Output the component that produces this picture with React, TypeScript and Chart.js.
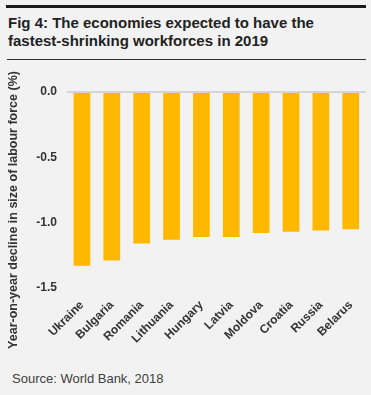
import React, { useEffect, useRef } from "react";
import { Chart, registerables } from "chart.js";

Chart.register(...registerables);

const categories = ["Ukraine", "Bulgaria", "Romania", "Lithuania", "Hungary", "Latvia", "Moldova", "Croatia", "Russia", "Belarus"];
const values = [-1.33, -1.29, -1.16, -1.13, -1.11, -1.11, -1.08, -1.07, -1.06, -1.05];
const yTicks = [0, -0.5, -1.0, -1.5];
const titleLines = ["Fig 4: The economies expected to have the", "fastest-shrinking workforces in 2019"];
const yTitle = "Year-on-year decline in size of labour force (%)";
const source = "Source: World Bank, 2018";

const FONT = "'Liberation Sans', Arial, Helvetica, sans-serif";
const CANVAS_TOP = 62;

const yTitlePlugin = {
  id: "yTitlePlugin",
  afterDraw(chart: any) {
    const ctx = chart.ctx;
    ctx.save();
    ctx.translate(14, 210 - CANVAS_TOP);
    ctx.rotate(-Math.PI / 2);
    ctx.font = `bold 12.5px ${FONT}`;
    ctx.fillStyle = "#333333";
    ctx.textAlign = "center";
    ctx.textBaseline = "middle";
    ctx.fillText(yTitle, 0, 0);
    ctx.restore();
  },
};

export default function App() {
  const ref = useRef<HTMLCanvasElement>(null);

  useEffect(() => {
    if (!ref.current) return;
    const chart = new Chart(ref.current, {
      type: "bar",
      data: {
        labels: categories,
        datasets: [
          {
            data: values,
            backgroundColor: "#ffb800",
            borderWidth: 0,
            barPercentage: 0.56,
            categoryPercentage: 1,
          },
        ],
      },
      options: {
        animation: false,
        responsive: false,
        maintainAspectRatio: false,
        layout: { padding: { left: 0, right: 1, top: 30, bottom: 0 } },
        plugins: { legend: { display: false }, tooltip: { enabled: false } },
        scales: {
          x: {
            grid: { display: false, drawTicks: false },
            border: { display: false },
            afterFit(scale: any) {
              scale.height = 74;
            },
            ticks: {
              autoSkip: false,
              minRotation: 45,
              maxRotation: 45,
              padding: 10,
              color: "#333333",
              font: { family: FONT, size: 12, weight: "bold" },
            },
          },
          y: {
            min: -1.5,
            max: 0,
            afterFit(scale: any) {
              scale.width = 67;
            },
            afterBuildTicks(scale: any) {
              scale.ticks = yTicks.map((v) => ({ value: v }));
            },
            border: { display: false },
            grid: {
              drawTicks: false,
              color: (c: any) => (c.tick && c.tick.value === 0 ? "#d4d4d4" : "rgba(0,0,0,0)"),
              lineWidth: 2,
            },
            ticks: {
              padding: 10,
              color: "#333333",
              font: { family: FONT, size: 12, weight: "bold" },
              callback: (v: any) => Number(v).toFixed(1),
            },
          },
        },
      },
      plugins: [yTitlePlugin],
    });
    return () => chart.destroy();
  }, []);

  return (
    <div
      style={{
        position: "fixed",
        left: 0,
        top: 0,
        width: 371,
        height: 395,
        background: "#f2f2f2",
        fontFamily: FONT,
        overflow: "hidden",
      }}
    >
      <div style={{ position: "absolute", left: 6, top: 5, width: 360, height: 2.5, background: "#1a1a1a" }} />
      <div
        style={{
          position: "absolute",
          left: 8,
          top: 14,
          fontSize: 15,
          lineHeight: "18px",
          fontWeight: "bold",
          color: "#222222",
          whiteSpace: "nowrap",
        }}
      >
        {titleLines.map((l, i) => (
          <div key={i}>{l}</div>
        ))}
      </div>
      <div style={{ position: "absolute", left: 7, top: 59, width: 359, height: 1, background: "#333333" }} />
      <canvas ref={ref} width={371} height={300} style={{ position: "absolute", left: 0, top: CANVAS_TOP, width: 371, height: 300 }} />
      <div
        style={{
          position: "absolute",
          left: 12,
          top: 371,
          fontSize: 13,
          lineHeight: "15px",
          color: "#404040",
          whiteSpace: "nowrap",
        }}
      >
        {source}
      </div>
    </div>
  );
}
